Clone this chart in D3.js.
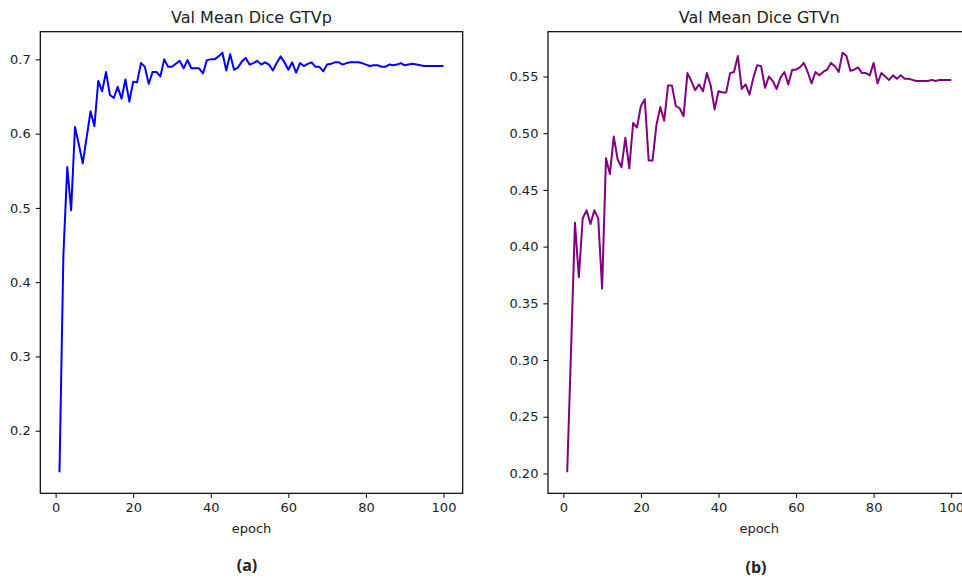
<!DOCTYPE html>
<html>
<head>
<meta charset="utf-8">
<script src="https://cdn.jsdelivr.net/npm/d3@7"></script>
<style>
body { margin: 0; background: #fff; overflow: hidden; }
text { font-family: "DejaVu Sans", sans-serif; fill: #222; }
</style>
</head>
<body>
<svg id="chart" width="962" height="580"></svg>
<script>
const epochs = d3.range(1, 101);

const gtvpDice = [
  0.144, 0.436, 0.555, 0.497, 0.609, 0.585, 0.560, 0.595, 0.630, 0.610,
  0.671, 0.657, 0.683, 0.652, 0.648, 0.663, 0.647, 0.673, 0.643, 0.670,
  0.669, 0.695, 0.690, 0.667, 0.683, 0.683, 0.677, 0.700, 0.690, 0.690,
  0.694, 0.698, 0.688, 0.699, 0.688, 0.688, 0.688, 0.681, 0.699, 0.700,
  0.700, 0.704, 0.709, 0.685, 0.707, 0.686, 0.689, 0.697, 0.702, 0.693,
  0.695, 0.698, 0.693, 0.696, 0.693, 0.685, 0.695, 0.704, 0.696, 0.686,
  0.696, 0.682, 0.695, 0.691, 0.694, 0.696, 0.690, 0.690, 0.684, 0.693,
  0.694, 0.696, 0.696, 0.693, 0.695, 0.696, 0.696, 0.696, 0.695, 0.693,
  0.691, 0.692, 0.692, 0.690, 0.690, 0.693, 0.692, 0.693, 0.695, 0.692,
  0.693, 0.694, 0.693, 0.692, 0.691, 0.691, 0.691, 0.691, 0.691, 0.691
];

const gtvnDice = [
  0.201, 0.310, 0.421, 0.373, 0.425, 0.432, 0.420, 0.432, 0.425, 0.363,
  0.478, 0.464, 0.497, 0.477, 0.470, 0.496, 0.469, 0.509, 0.505, 0.524,
  0.530, 0.476, 0.476, 0.507, 0.523, 0.511, 0.542, 0.542, 0.524, 0.522,
  0.515, 0.553, 0.546, 0.538, 0.543, 0.537, 0.553, 0.542, 0.521, 0.537,
  0.536, 0.536, 0.553, 0.554, 0.568, 0.539, 0.543, 0.534, 0.549, 0.560,
  0.559, 0.540, 0.550, 0.546, 0.539, 0.549, 0.554, 0.543, 0.556, 0.556,
  0.558, 0.562, 0.554, 0.544, 0.554, 0.551, 0.554, 0.556, 0.562, 0.559,
  0.554, 0.571, 0.568, 0.555, 0.556, 0.558, 0.553, 0.553, 0.551, 0.562,
  0.544, 0.553, 0.550, 0.547, 0.551, 0.548, 0.551, 0.548, 0.548, 0.547,
  0.546, 0.546, 0.546, 0.546, 0.547, 0.546, 0.547, 0.547, 0.547, 0.547
];

const xTicks = [0, 20, 40, 60, 80, 100];
const gtvpTicks = [0.2, 0.3, 0.4, 0.5, 0.6, 0.7];
const gtvnTicks = [0.20, 0.25, 0.30, 0.35, 0.40, 0.45, 0.50, 0.55];

const svg = d3.select('#chart');
const plotW = 422.4;
const plotH = 461.6;
const plotTop = 31.7;
const tickLen = 4.6;

// matplotlib style 5% padding around the data
function padded(ext) {
    const m = (ext[1] - ext[0]) * 0.05;
    return [ext[0] - m, ext[1] + m];
}

function drawPanel(opt) {
    const g = svg.append('g').attr('transform', `translate(${opt.left}, ${plotTop})`);

    const x = d3.scaleLinear().domain(padded(d3.extent(epochs))).range([0, plotW]);
    const y = d3.scaleLinear().domain(padded(d3.extent(opt.values))).range([plotH, 0]);

    const xAxis = g.append('g')
        .attr('transform', `translate(0, ${plotH})`)
        .call(d3.axisBottom(x).tickValues(xTicks).tickSize(tickLen).tickPadding(5).tickFormat(d3.format('d')));
    const yAxis = g.append('g')
        .call(d3.axisLeft(y).tickValues(opt.ticks).tickSize(tickLen).tickPadding(5).tickFormat(d3.format(opt.fmt)));

    [xAxis, yAxis].forEach(a => {
        a.select('.domain').remove();
        a.selectAll('line').attr('stroke', '#000').attr('stroke-width', 1);
        a.selectAll('text').attr('font-size', 13).attr('font-family', '"DejaVu Sans", sans-serif').attr('fill', '#222');
    });

    const line = d3.line()
        .x((d, i) => x(epochs[i]))
        .y(d => y(d));

    g.append('path')
        .datum(opt.values)
        .attr('fill', 'none')
        .attr('stroke', opt.color)
        .attr('stroke-width', 2)
        .attr('stroke-linejoin', 'round')
        .attr('d', line);

    g.append('rect')
        .attr('width', plotW)
        .attr('height', plotH)
        .attr('fill', 'none')
        .attr('stroke', '#000')
        .attr('stroke-width', 1.2);

    g.append('text')
        .attr('x', plotW / 2)
        .attr('y', -9)
        .attr('text-anchor', 'middle')
        .attr('font-size', 16)
        .text(opt.title);

    g.append('text')
        .attr('x', plotW / 2)
        .attr('y', plotH + 40)
        .attr('text-anchor', 'middle')
        .attr('font-size', 13)
        .text('epoch');

    svg.append('text')
        .attr('x', opt.tagX)
        .attr('y', opt.tagY)
        .attr('text-anchor', 'middle')
        .attr('font-size', 16)
        .attr('font-weight', 'bold')
        .style('font-family', '"Open Sans", "Liberation Sans", sans-serif')
        .text(opt.tag);
}

drawPanel({
    left: 40.3, values: gtvpDice, ticks: gtvpTicks, fmt: '.1f',
    color: '#0000ff', title: 'Val Mean Dice GTVp', tag: '(a)', tagX: 247, tagY: 571
});

drawPanel({
    left: 548, values: gtvnDice, ticks: gtvnTicks, fmt: '.2f',
    color: '#800080', title: 'Val Mean Dice GTVn', tag: '(b)', tagX: 756, tagY: 573
});
</script>
</body>
</html>
